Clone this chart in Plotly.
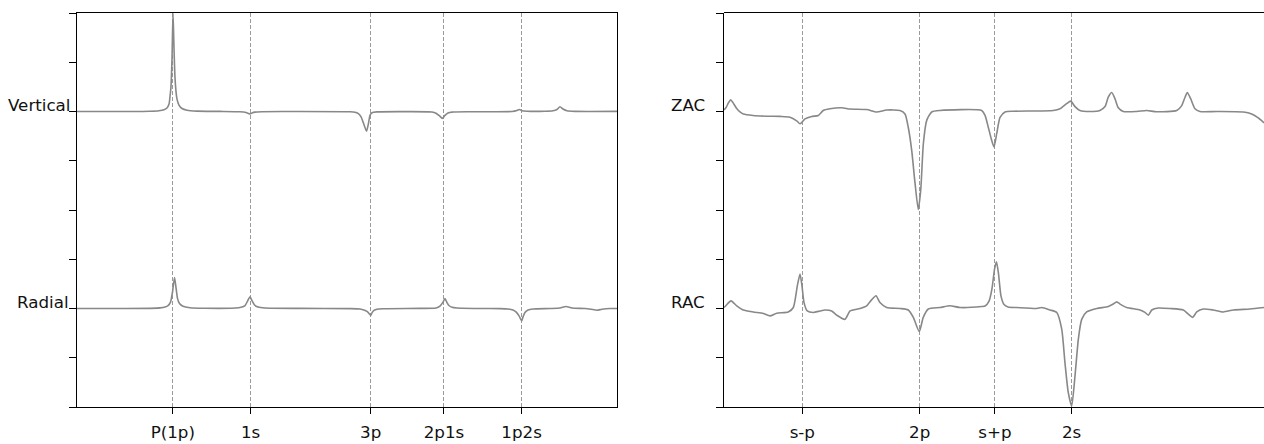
import plotly.graph_objects as go

# ---- Frequency axis: labelled harmonic positions ----
left_ticks = [0.887, 1.608, 2.719, 3.398, 4.117]
left_tick_labels = ["P(1p)", "1s", "3p", "2p1s", "1p2s"]
right_ticks = [0.725, 1.812, 2.509, 3.219]
right_tick_labels = ["s-p", "2p", "s+p", "2s"]

# ---- Vertical response (deviation from its trace level) ----
vertical_x = [0.000, 0.491, 0.676, 0.759, 0.806, 0.833, 0.852, 0.861, 0.870, 0.880,
              0.889, 0.898, 0.907, 0.917, 0.926, 0.944, 0.972, 1.019, 1.111, 1.324,
              1.509, 1.556, 1.583, 1.602, 1.620, 1.648, 1.713, 2.065, 2.528, 2.574,
              2.602, 2.630, 2.653, 2.681, 2.699, 2.713, 2.731, 2.778, 2.991, 3.287,
              3.324, 3.352, 3.384, 3.407, 3.435, 3.472, 3.639, 4.028, 4.074, 4.097,
              4.120, 4.167, 4.333, 4.407, 4.444, 4.472, 4.500, 4.537, 4.611, 5.000]
vertical_y = [0.000, 0.000, 0.005, 0.015, 0.035, 0.070, 0.150, 0.300, 0.500, 1.100,
              2.000, 1.300, 0.700, 0.400, 0.250, 0.130, 0.060, 0.025, 0.008, 0.002,
              -0.005, -0.015, -0.035, -0.050, -0.030, -0.012, -0.004, 0.000, -0.005, -0.015,
              -0.040, -0.110, -0.240, -0.400, -0.240, -0.080, -0.025, -0.008, -0.003, -0.010,
              -0.035, -0.080, -0.140, -0.080, -0.030, -0.012, -0.005, 0.000, 0.020, 0.040,
              0.015, 0.005, 0.005, 0.015, 0.040, 0.095, 0.050, 0.015, 0.003, 0.003]

# ---- Radial response ----
radial_x = [0.000, 0.676, 0.769, 0.815, 0.843, 0.866, 0.884, 0.903, 0.917, 0.931,
            0.949, 0.981, 1.046, 1.185, 1.463, 1.519, 1.556, 1.579, 1.602, 1.620,
            1.644, 1.676, 1.741, 2.065, 2.528, 2.620, 2.657, 2.685, 2.704, 2.719,
            2.731, 2.750, 2.778, 2.833, 3.176, 3.324, 3.361, 3.389, 3.407, 3.426,
            3.444, 3.472, 3.519, 3.731, 3.917, 3.991, 4.037, 4.065, 4.093, 4.118,
            4.130, 4.148, 4.176, 4.222, 4.380, 4.472, 4.528, 4.583, 4.704, 4.759,
            4.815, 4.861, 4.935, 5.000]
radial_y = [0.000, 0.003, 0.012, 0.030, 0.060, 0.130, 0.330, 0.630, 0.420, 0.200,
            0.100, 0.045, 0.015, 0.005, 0.010, 0.025, 0.060, 0.150, 0.240, 0.160,
            0.070, 0.030, 0.010, 0.002, -0.003, -0.010, -0.030, -0.060, -0.100, -0.140,
            -0.090, -0.040, -0.015, -0.005, 0.002, 0.010, 0.050, 0.130, 0.200, 0.120,
            0.060, 0.025, 0.010, 0.000, -0.003, -0.010, -0.030, -0.070, -0.150, -0.250,
            -0.170, -0.080, -0.030, -0.010, 0.000, 0.010, 0.040, 0.010, 0.000, -0.015,
            -0.035, -0.015, 0.000, 0.000]

# ---- ZAC response ----
zac_x = [0.000, 0.019, 0.042, 0.062, 0.083, 0.118, 0.148, 0.179, 0.269, 0.395,
         0.519, 0.611, 0.673, 0.704, 0.750, 0.812, 0.873, 0.919, 0.981, 1.090,
         1.167, 1.321, 1.414, 1.506, 1.630, 1.676, 1.706, 1.738, 1.769, 1.799,
         1.822, 1.846, 1.877, 1.923, 2.000, 2.386, 2.417, 2.447, 2.479, 2.500,
         2.525, 2.556, 2.602, 2.679, 3.049, 3.111, 3.173, 3.210, 3.250, 3.296,
         3.389, 3.481, 3.528, 3.558, 3.590, 3.620, 3.651, 3.697, 3.821, 3.914,
         4.006, 4.192, 4.238, 4.269, 4.290, 4.321, 4.361, 4.407, 4.562, 4.809,
         4.886, 4.947, 5.000]
zac_y = [0.030, 0.080, 0.180, 0.240, 0.180, 0.060, -0.010, -0.050, -0.080, -0.095,
         -0.100, -0.115, -0.190, -0.250, -0.150, -0.100, -0.080, 0.020, 0.055, 0.075,
         0.050, 0.040, -0.010, 0.030, 0.020, -0.050, -0.320, -0.790, -1.460, -1.990,
         -1.580, -0.650, -0.180, -0.010, 0.020, 0.020, -0.080, -0.320, -0.590, -0.720,
         -0.450, -0.120, -0.010, 0.005, 0.020, 0.055, 0.160, 0.210, 0.100, 0.020,
         0.000, 0.020, 0.100, 0.290, 0.385, 0.260, 0.075, 0.000, 0.000, 0.020,
         -0.005, 0.020, 0.120, 0.290, 0.385, 0.260, 0.055, 0.000, 0.000, -0.010,
         -0.050, -0.130, -0.230]

# ---- RAC response ----
rac_x = [0.000, 0.016, 0.065, 0.118, 0.179, 0.271, 0.364, 0.426, 0.488, 0.595,
         0.642, 0.679, 0.704, 0.722, 0.741, 0.771, 0.827, 0.889, 0.935, 0.997,
         1.044, 1.120, 1.167, 1.259, 1.321, 1.368, 1.407, 1.444, 1.506, 1.630,
         1.706, 1.753, 1.808, 1.845, 1.892, 2.000, 2.093, 2.185, 2.386, 2.417,
         2.454, 2.481, 2.505, 2.523, 2.542, 2.565, 2.593, 2.630, 2.710, 2.895,
         2.941, 3.019, 3.081, 3.127, 3.157, 3.188, 3.219, 3.250, 3.281, 3.312,
         3.358, 3.451, 3.558, 3.605, 3.636, 3.667, 3.729, 3.852, 3.898, 3.929,
         3.961, 4.022, 4.130, 4.253, 4.299, 4.340, 4.377, 4.438, 4.530, 4.623,
         4.716, 4.870, 5.000]
rac_y = [0.020, 0.055, 0.155, 0.055, -0.030, -0.070, -0.100, -0.150, -0.095, -0.070,
         0.020, 0.460, 0.700, 0.460, 0.120, -0.050, -0.080, -0.050, -0.030, -0.050,
         -0.135, -0.220, -0.050, 0.000, 0.055, 0.180, 0.260, 0.120, 0.020, 0.000,
         -0.030, -0.180, -0.470, -0.180, -0.010, 0.020, 0.055, 0.020, 0.040, 0.050,
         0.150, 0.400, 0.800, 0.950, 0.700, 0.250, 0.080, 0.030, 0.020, 0.000,
         0.020, -0.030, -0.080, -0.420, -1.100, -1.710, -1.980, -1.370, -0.620, -0.220,
         -0.070, 0.000, 0.040, 0.090, 0.135, 0.090, 0.020, -0.030, -0.080, -0.135,
         -0.030, 0.010, 0.000, -0.030, -0.115, -0.180, -0.070, -0.010, -0.030, -0.070,
         -0.030, -0.010, 0.020]

# Vertical offsets at which each trace is stacked
UPPER_LEVEL = 2.0
LOWER_LEVEL = -2.0

LINE_COLOR = "#888888"
LINE_WIDTH = 1.6
TEXT_COLOR = "#111111"
FONT = "DejaVu Sans"
FSIZE = 16.7

fig = go.Figure()


def add_trace(xs, ys, level, xa, ya):
    fig.add_trace(go.Scatter(
        x=xs, y=[level + v for v in ys], mode="lines",
        line=dict(color=LINE_COLOR, width=LINE_WIDTH, shape="spline", smoothing=0.6),
        xaxis=xa, yaxis=ya, showlegend=False, hoverinfo="skip",
    ))


add_trace(vertical_x, vertical_y, UPPER_LEVEL, "x", "y")
add_trace(radial_x, radial_y, LOWER_LEVEL, "x", "y")
add_trace(zac_x, zac_y, UPPER_LEVEL, "x2", "y2")
add_trace(rac_x, rac_y, LOWER_LEVEL, "x2", "y2")

W, H = 1264, 444
left_dom = [77 / W, 617 / W]
right_dom = [724 / W, 1.0]
y_dom = [1 - 407 / H, 1 - 13 / H]

xcommon = dict(
    range=[0, 5], showline=True, linecolor="black", linewidth=1,
    ticks="outside", ticklen=6, tickcolor="black", tickwidth=1,
    showgrid=True, gridcolor="#9a9a9a", gridwidth=1, griddash="4px,2px",
    zeroline=False, tickfont=dict(family=FONT, size=FSIZE, color=TEXT_COLOR),
    ticklabelstandoff=4, fixedrange=True,
)
ycommon = dict(
    range=[-4, 4], showline=True, linecolor="black", linewidth=1,
    ticks="outside", ticklen=7, tickcolor="black", tickwidth=1,
    tickvals=[-4, -3, -2, -1, 0, 1, 2, 3, 4], ticktext=[""] * 9,
    showgrid=False, zeroline=False, fixedrange=True, domain=y_dom,
)

fig.update_layout(
    width=W, height=H,
    margin=dict(l=0, r=0, t=0, b=0),
    paper_bgcolor="white", plot_bgcolor="white",
    xaxis=dict(domain=left_dom, tickvals=left_ticks, ticktext=left_tick_labels,
               anchor="y", mirror=True, **xcommon),
    yaxis=dict(anchor="x", mirror=True, **ycommon),
    xaxis2=dict(domain=right_dom, tickvals=right_ticks, ticktext=right_tick_labels,
                anchor="y2", **xcommon),
    yaxis2=dict(anchor="x2", **ycommon),
)

# Top border of the right panel (no right border there)
top_y = 1 - 12.5 / H
fig.add_shape(type="line", xref="paper", yref="paper",
              x0=right_dom[0], x1=1, y0=top_y, y1=top_y,
              line=dict(color="black", width=1), layer="above")

# Trace names beside the level ticks
labels = [("Vertical", "x", "y", UPPER_LEVEL, -5),
          ("Radial", "x", "y", LOWER_LEVEL, -6),
          ("ZAC", "x2", "y2", UPPER_LEVEL, -17),
          ("RAC", "x2", "y2", LOWER_LEVEL, -17)]
for text, xa, ya, lvl, dx in labels:
    fig.add_annotation(
        text=text, xref=f"{xa} domain", yref=ya, x=0, y=lvl,
        xanchor="right", yanchor="middle", xshift=dx, yshift=7,
        showarrow=False, font=dict(family=FONT, size=FSIZE, color=TEXT_COLOR),
    )

fig.write_html("out.html", config={"displayModeBar": False})
